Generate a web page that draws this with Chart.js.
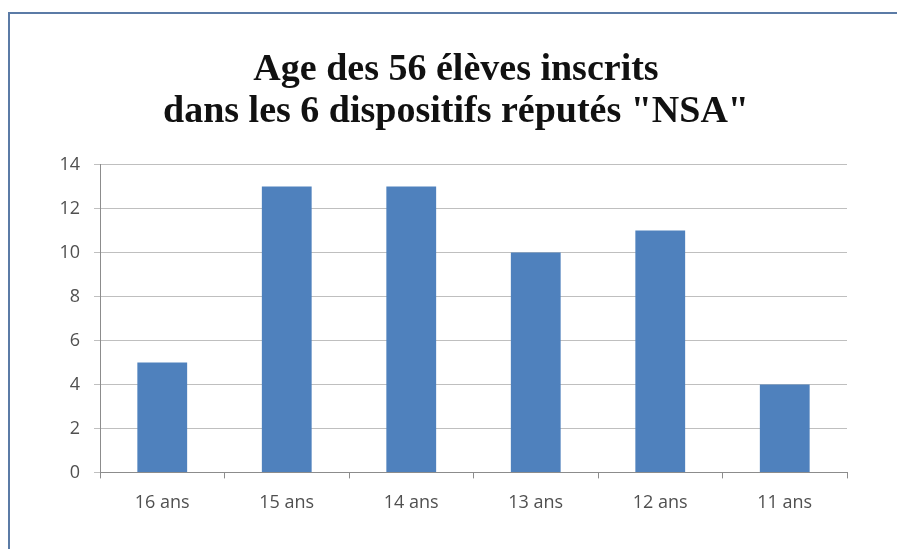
<!DOCTYPE html>
<html>
<head>
<meta charset="utf-8">
<script src="https://cdn.jsdelivr.net/npm/chart.js@4"></script>
<style>
    html, body { margin: 0; padding: 0; background: #fff; }
    #wrap { position: relative; width: 897px; height: 549px; }
    #frame {
        position: absolute; left: 8px; top: 12px; right: -5px; bottom: -5px;
        border-left: 2px solid #5b7ba6; border-top: 2px solid #5b7ba6;
    }
    canvas { position: absolute; left: 0; top: 0; }
</style>
</head>
<body>
<div id="wrap">
    <div id="frame"></div>
    <canvas id="chartAge" width="897" height="549"></canvas>
</div>
<script>
const categories = ['16 ans', '15 ans', '14 ans', '13 ans', '12 ans', '11 ans']
const nbEleves = [5, 13, 13, 10, 11, 4]
const titleLines = ['Age des 56 élèves inscrits', 'dans les 6 dispositifs réputés "NSA"']

// le titre est centré un peu à gauche du centre de la zone de tracé
const shiftTitle = {
    id: 'shiftTitle',
    afterLayout(chart) {
        if (chart.titleBlock) chart.titleBlock.left = 65
    }
}

new Chart(document.getElementById('chartAge'), {
    type: 'bar',
    data: {
        labels: categories,
        datasets: [{
            label: 'Élèves',
            data: nbEleves,
            backgroundColor: '#4f81bd',
            borderWidth: 0,
            categoryPercentage: 1,
            barPercentage: 0.4
        }]
    },
    options: {
        responsive: false,
        animation: false,
        layout: {
            padding: { left: 0, right: 50, top: 0, bottom: 21 }
        },
        plugins: {
            legend: { display: false },
            tooltip: { enabled: false },
            title: {
                display: true,
                text: titleLines,
                color: '#111',
                font: { family: '"Liberation Serif", serif', size: 38, weight: 'bold', lineHeight: 1.1 },
                padding: { top: 49, bottom: 32 }
            }
        },
        scales: {
            x: {
                grid: {
                    offset: true,
                    drawOnChartArea: false,
                    drawTicks: true,
                    tickLength: 6,
                    color: '#8c8c8c'
                },
                border: { color: '#8c8c8c' },
                ticks: {
                    color: '#505050',
                    padding: 14,
                    font: { family: '"Open Sans", sans-serif', size: 18 }
                }
            },
            y: {
                min: 0,
                max: 14,
                afterFit: function(scale) { scale.width = 100 },
                ticks: {
                    stepSize: 2,
                    color: '#505050',
                    padding: 14,
                    font: { family: '"Open Sans", sans-serif', size: 18 }
                },
                grid: {
                    color: '#bfbfbf',
                    tickLength: 6
                },
                border: { color: '#8c8c8c' }
            }
        }
    },
    plugins: [shiftTitle]
})
</script>
</body>
</html>
